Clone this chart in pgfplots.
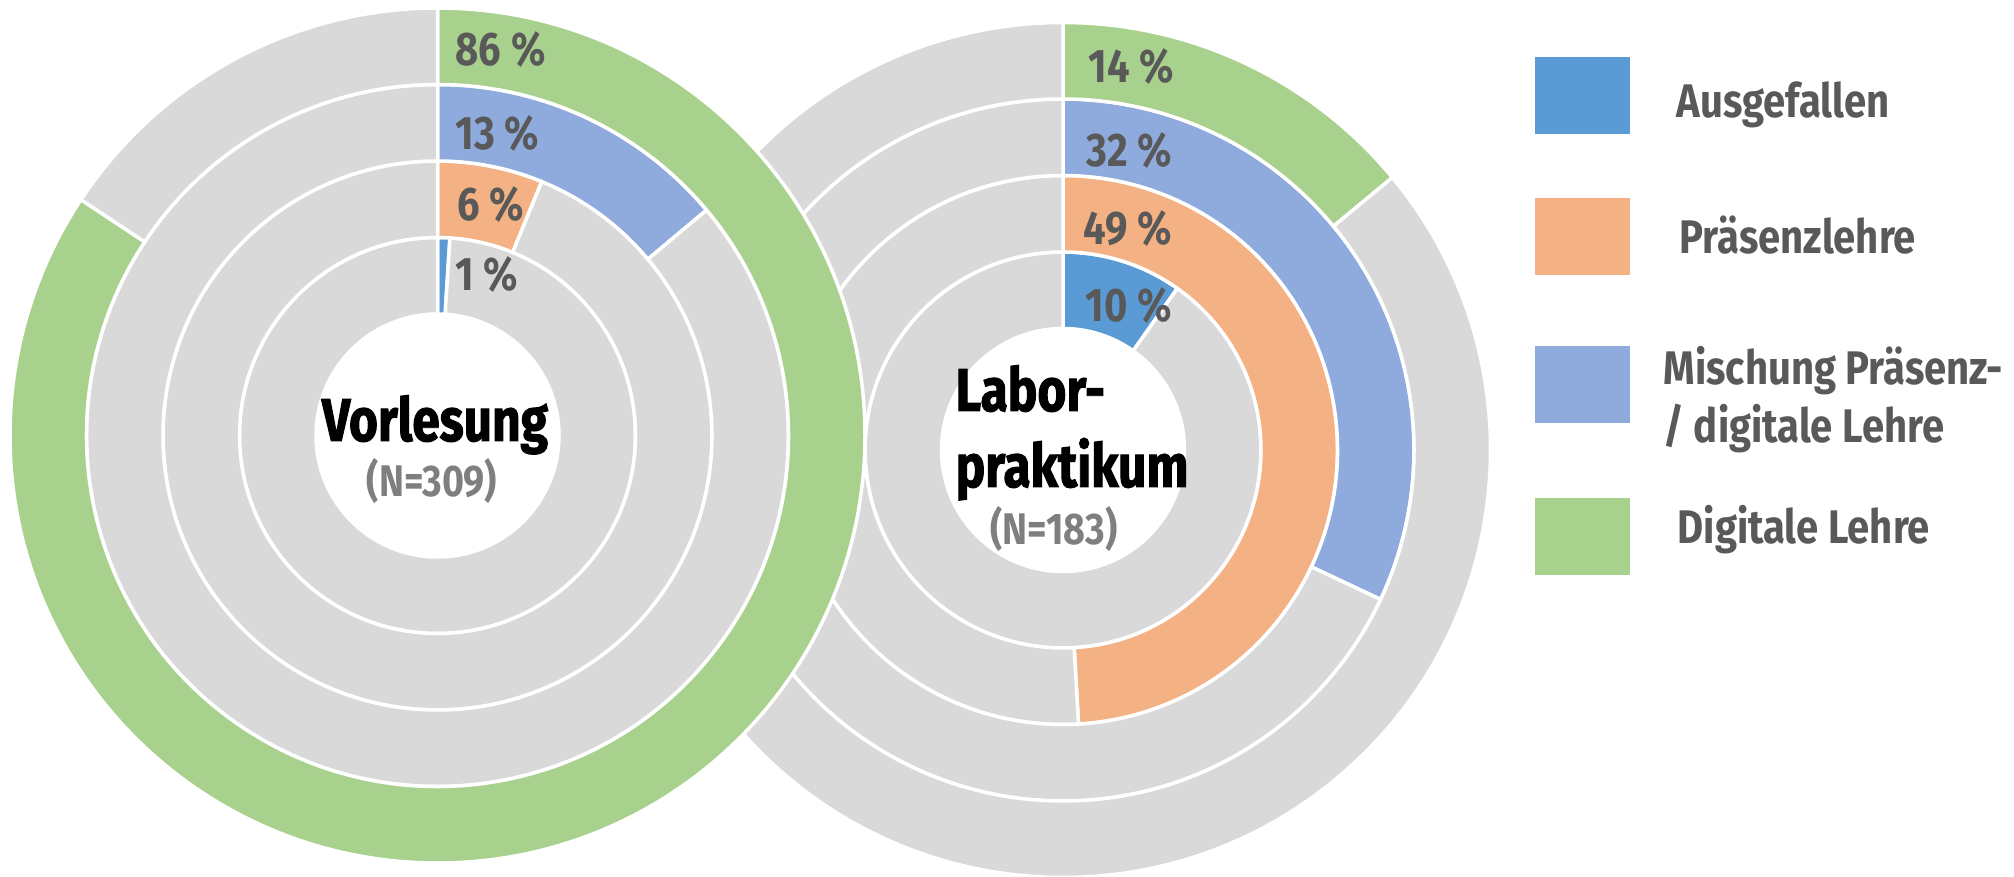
\documentclass[border=0pt]{standalone}
\usepackage{pgfplots}
\pgfplotsset{compat=1.18}
\usepackage{fontspec}
\setmainfont{Fira Sans}[FakeStretch=0.85]
\newfontfamily\heavyfont{Fira Sans}[FakeStretch=0.82, BoldFeatures={FakeBold=1.6}]

\definecolor{cBlue}{HTML}{5B9BD5}
\definecolor{cOrange}{HTML}{F4B183}
\definecolor{cMix}{HTML}{8FAADC}
\definecolor{cGreen}{HTML}{A9D18E}
\definecolor{cGray}{HTML}{D9D9D9}
\definecolor{cText}{HTML}{595959}
\definecolor{cN}{HTML}{7F7F7F}

\newcommand\lbl{\fontsize{13.4}{16}\selectfont\bfseries}
\newcommand\ttl{\heavyfont\fontsize{17.2}{20}\selectfont\bfseries}
\newcommand\nlbl{\fontsize{12.6}{15}\selectfont\bfseries}

% annular sector: cx, cy, r_in, r_out, start angle, delta angle, colour
\newcommand\seg[7]{%
  \fill[#7, draw=white, line width=0.035cm]
    ([shift={({#5}:{(#4)*0.01cm})}]axis cs:#1,#2)
    arc[start angle={#5}, delta angle={#6}, radius={(#4)*0.01cm}]
    -- ([shift={({#5+(#6)}:{(#3)*0.01cm})}]axis cs:#1,#2)
    arc[start angle={#5+(#6)}, delta angle={-(#6)}, radius={(#3)*0.01cm}]
    -- cycle;}
% ring k (1 = innermost) of a doughnut at cx, cy: value in percent, colour
\newcommand\ring[5]{%
  \seg{#1}{#2}{121.5+76.5*(#3-1)}{121.5+76.5*#3}{90}{-3.6*#4}{#5}%
  \seg{#1}{#2}{121.5+76.5*(#3-1)}{121.5+76.5*#3}{90-3.6*#4}{-360+3.6*#4}{cGray}}

\begin{document}
\begin{tikzpicture}
\begin{axis}[hide axis, scale only axis, clip=false, disabledatascaling,
  x=0.01cm, y=0.01cm, xmin=0, xmax=2014, ymin=0, ymax=877, y dir=reverse]
\addplot[draw=none] coordinates {(0,0) (2014,877)};
\coordinate (TL) at (axis cs:0,0);
\coordinate (BR) at (axis cs:2014,877);

% Laborpraktikum (N=183)
\ring{1063}{450}{1}{9.8}{cBlue}
\ring{1063}{450}{2}{49.1}{cOrange}
\ring{1063}{450}{3}{32.0}{cMix}
\ring{1063}{450}{4}{14.0}{cGreen}

% Vorlesung (N=309)
\ring{437.5}{435.5}{1}{1.0}{cBlue}
\ring{437.5}{435.5}{2}{6.2}{cOrange}
\ring{437.5}{435.5}{3}{13.9}{cMix}
\ring{437.5}{435.5}{4}{84.3}{cGreen}

% ring labels
\node[anchor=base west, inner sep=0, text=cText, font=\lbl] at (axis cs:455,66) {86 \%};
\node[anchor=base west, inner sep=0, text=cText, font=\lbl] at (axis cs:455,150) {13 \%};
\node[anchor=base west, inner sep=0, text=cText, font=\lbl] at (axis cs:457,221) {6 \%};
\node[anchor=base west, inner sep=0, text=cText, font=\lbl] at (axis cs:455,291) {1 \%};
\node[anchor=base west, inner sep=0, text=cText, font=\lbl] at (axis cs:1088,83) {14 \%};
\node[anchor=base west, inner sep=0, text=cText, font=\lbl] at (axis cs:1086,167) {32 \%};
\node[anchor=base west, inner sep=0, text=cText, font=\lbl] at (axis cs:1083,245) {49 \%};
\node[anchor=base west, inner sep=0, text=cText, font=\lbl] at (axis cs:1085,322) {10 \%};

% centre titles
\node[anchor=base, inner sep=0, font=\ttl] at (axis cs:435,441) {Vorlesung};
\node[anchor=base, inner sep=0, text=cN, font=\nlbl] at (axis cs:432,497) {(N=309)};
\node[anchor=base west, inner sep=0, font=\ttl] at (axis cs:955,411) {Labor-};
\node[anchor=base west, inner sep=0, font=\ttl] at (axis cs:955,487) {praktikum};
\node[anchor=base, inner sep=0, text=cN, font=\nlbl] at (axis cs:1054,545) {(N=183)};

% legend
\fill[cBlue] (axis cs:1535,57) rectangle (axis cs:1630,134);
\fill[cOrange] (axis cs:1535,198) rectangle (axis cs:1630,275);
\fill[cMix] (axis cs:1535,346) rectangle (axis cs:1630,423);
\fill[cGreen] (axis cs:1535,498) rectangle (axis cs:1630,575);
\node[anchor=base west, inner sep=0, text=cText, font=\lbl] at (axis cs:1676,118) {Ausgefallen};
\node[anchor=base west, inner sep=0, text=cText, font=\lbl] at (axis cs:1679,254) {Präsenzlehre};
\node[anchor=base west, inner sep=0, text=cText, font=\lbl] at (axis cs:1663,385) {Mischung Präsenz-};
\node[anchor=base west, inner sep=0, text=cText, font=\lbl] at (axis cs:1663,443) {/ digitale Lehre};
\node[anchor=base west, inner sep=0, text=cText, font=\lbl] at (axis cs:1677,544) {Digitale Lehre};
\end{axis}
\pgfresetboundingbox
\path (TL) rectangle (BR);
\end{tikzpicture}
\end{document}
